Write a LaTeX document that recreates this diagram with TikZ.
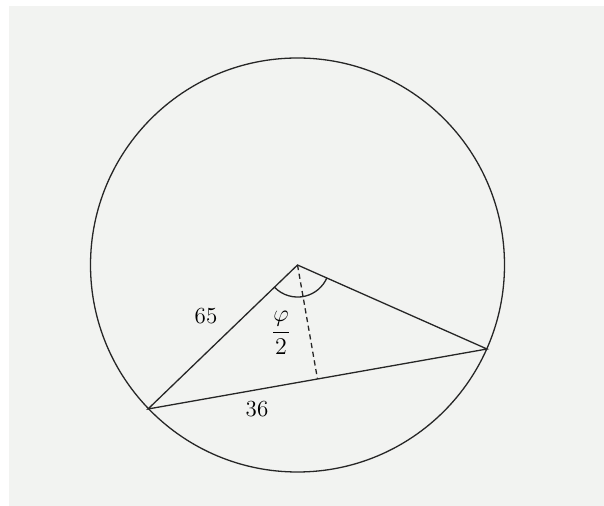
\documentclass[tikz,border=0pt]{standalone}
\usetikzlibrary{calc}
\definecolor{bg}{RGB}{242,243,241}
\begin{document}
\begin{tikzpicture}[x=0.5pt,y=-0.5pt,
  line/.style={line width=0.65pt,black!85},
  lbl/.style={font=\fontsize{11.5}{14}\selectfont,inner sep=0pt}]
\useasboundingbox (0,0) rectangle (604,506);
\fill[bg] (9,6) rectangle (604,506);
\coordinate (O) at (297.5,265);
\coordinate (A) at (148,409);
\coordinate (B) at (487,349);
\coordinate (M) at ($(A)!0.5!(B)$);
\draw[line] (O) circle[radius=207];
\draw[line] (A) -- (O) -- (B) -- cycle;
\draw[line,dash pattern=on 2.6pt off 1.8pt] (O) -- (M);
\draw[line] ($(O)!16pt!(A)$) arc[start angle=136.2,end angle=23.9,radius=32];
\node[lbl] (l65) at (206,316) {65};
\node[lbl] (l36) at (257,409) {36};
\node[lbl] (lphi) at (281,333) {$\displaystyle\frac{\varphi}{2}$};
\end{tikzpicture}
\end{document}
